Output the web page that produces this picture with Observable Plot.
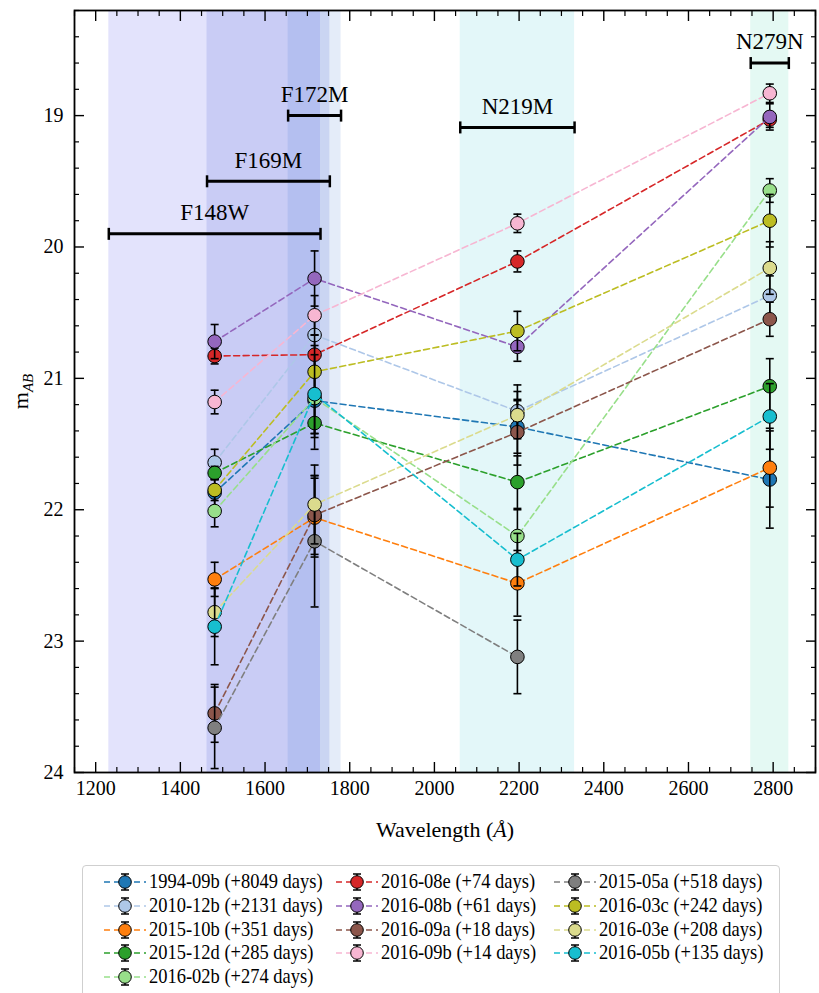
<!DOCTYPE html>
<html>
<head>
<meta charset="utf-8">
<script src="https://cdn.jsdelivr.net/npm/d3@7"></script>
<script src="https://cdn.jsdelivr.net/npm/@observablehq/plot@0.6"></script>
<style>
  body { margin: 0; background: #fff; font-family: "Liberation Serif", "DejaVu Serif", "Noto Serif", "Times New Roman", Times, serif; }
  #chart svg { display: block; }
  #legend {
    position: absolute; left: 82px; top: 865px; width: 698px; height: 140px;
    border: 1px solid #cfcfcf; border-radius: 4px; box-sizing: border-box; background: #fff;
    padding: 4px 0 0 21px;
    display: grid;
    grid-template-rows: repeat(5, 23.8px);
    grid-template-columns: 232px 218px 220px;
  }
  .item { display: flex; align-items: center; gap: 3px; font-size: 21px; line-height: 23.8px; white-space: nowrap; color: #000; }
  .item svg { flex: none; }
  .item span { display: inline-block; transform: scaleX(0.88); transform-origin: 0 50%; }
</style>
</head>
<body>
<div id="chart"></div>
<div id="legend"></div>
<script>
// ---- data ----
const wavelengths = [1481, 1717, 2196, 2792];

const seriesNames = [
  "1994-09b (+8049 days)", "2010-12b (+2131 days)", "2015-10b (+351 days)",
  "2015-12d (+285 days)", "2016-02b (+274 days)", "2016-08e (+74 days)",
  "2016-08b (+61 days)", "2016-09a (+18 days)", "2016-09b (+14 days)",
  "2015-05a (+518 days)", "2016-03c (+242 days)", "2016-03e (+208 days)",
  "2016-05b (+135 days)"
];
const seriesColors = [
  "#1f77b4", "#aec7e8", "#ff7f0e", "#2ca02c", "#98df8a", "#d62728", "#9467bd",
  "#8c564b", "#f7b6d2", "#7f7f7f", "#bcbd22", "#dbdb8d", "#17becf"
];
// magnitudes at [1481, 1717, 2196, 2792]
const mags = [
  [21.87, 21.17, 21.37, 21.77],
  [21.64, 20.67, 21.25, 20.37],
  [22.53, 22.06, 22.56, 21.68],
  [21.72, 21.34, 21.79, 21.06],
  [22.01, 21.15, 22.20, 19.57],
  [20.83, 20.82, 20.11, 19.03],
  [20.72, 20.24, 20.76, 19.01],
  [23.55, 22.04, 21.41, 20.55],
  [21.18, 20.52, 19.82, 18.83],
  [23.66, 22.24, 23.12, null],
  [21.85, 20.95, 20.64, 19.80],
  [22.78, 21.96, 21.28, 20.16],
  [22.89, 21.12, 22.38, 21.29]
];
const errs = [
  [0.10, 0.25, 0.20, 0.37],
  [0.10, 0.15, 0.20, 0.15],
  [0.13, 0.30, 0.25, 0.30],
  [0.05, 0.20, 0.20, 0.21],
  [0.12, 0.30, 0.20, 0.09],
  [0.06, 0.15, 0.08, 0.06],
  [0.13, 0.21, 0.11, 0.10],
  [0.22, 0.30, 0.25, 0.13],
  [0.09, 0.15, 0.07, 0.07],
  [0.31, 0.50, 0.28, null],
  [0.08, 0.20, 0.15, 0.20],
  [0.185, 0.30, 0.18, 0.20],
  [0.29, 0.30, 0.20, 0.25]
];
// legend layout (matplotlib ncol=3): column of each series
const legendColumns = [0, 0, 0, 0, 0, 1, 1, 1, 1, 2, 2, 2, 2];

// UVIT filters: name, central wavelength, bandwidth, bar level (mag)
const filterNames = ["F148W", "F169M", "F172M", "N219M", "N279N"];
const filterCenters = [1481, 1608, 1717, 2196, 2792];
const filterWidths = [500, 290, 125, 270, 90];
const filterLevels = [19.9, 19.5, 19.0, 19.09, 18.6];
const filterColors = ["#1a1ae6", "#122bc2", "#2260cb", "#17becf", "#1fcf9f"];

const xMajor = [1200, 1400, 1600, 1800, 2000, 2200, 2400, 2600, 2800];
const xMinor = d3.range(1150, 2901, 50).filter(v => v % 200 !== 0);
const yMajor = [19, 20, 21, 22, 23, 24];
const yMinor = d3.range(91, 120).filter(v => v % 5 !== 0).map(v => v / 5);

// ---- build ----
const FONT = "'Liberation Serif', 'DejaVu Serif', 'Noto Serif', 'Times New Roman', Times, serif";
const filters = filterNames.map((name, i) => ({
  name, c: filterCenters[i], lo: filterCenters[i] - filterWidths[i] / 2,
  hi: filterCenters[i] + filterWidths[i] / 2, y: filterLevels[i], color: filterColors[i]
}));
const filterEnds = filters.flatMap(f => [{x: f.lo, y: f.y}, {x: f.hi, y: f.y}]);

const hCap = {draw(ctx, size) { const r = Math.sqrt(size / Math.PI); ctx.moveTo(-r, 0); ctx.lineTo(r, 0); }};
const vCap = {draw(ctx, size) { const r = Math.sqrt(size / Math.PI); ctx.moveTo(0, -r); ctx.lineTo(0, r); }};

const seriesMarks = [];
seriesNames.forEach((name, i) => {
  const rows = wavelengths.map((w, j) => ({w, m: mags[i][j], e: errs[i][j]})).filter(d => d.m != null);
  const caps = rows.flatMap(d => [{w: d.w, m: d.m - d.e}, {w: d.w, m: d.m + d.e}]);
  seriesMarks.push(
    Plot.line(rows, {x: "w", y: "m", stroke: seriesColors[i], strokeWidth: 1.6, strokeDasharray: "6,3.5"}),
    Plot.ruleX(rows, {x: "w", y1: d => d.m - d.e, y2: d => d.m + d.e, stroke: "black", strokeWidth: 1.6}),
    Plot.dot(caps, {x: "w", y: "m", symbol: hCap, r: 4, stroke: "black", strokeWidth: 1.6, fill: "none"}),
    Plot.dot(rows, {x: "w", y: "m", r: 6.8, fill: seriesColors[i], stroke: "black", strokeWidth: 1})
  );
});

const blank = () => "";
const plot = Plot.plot({
  width: 819, height: 850,
  marginLeft: 74, marginRight: 4, marginTop: 10, marginBottom: 78,
  style: {fontFamily: FONT, fontSize: "20px", color: "black", background: "white", overflow: "visible"},
  x: {domain: [1150, 2900]},
  y: {domain: [18.2, 24], reverse: true},
  marks: [
    Plot.rect(filters, {x1: "lo", x2: "hi", fill: "color", fillOpacity: 0.12}),
    ...seriesMarks,
    Plot.ruleY(filters, {y: "y", x1: "lo", x2: "hi", stroke: "black", strokeWidth: 3}),
    Plot.dot(filterEnds, {x: "x", y: "y", symbol: vCap, r: 6, stroke: "black", strokeWidth: 2.5, fill: "none"}),
    Plot.text(filters, {x: "c", y: "y", text: "name", dy: -21, fontSize: 23, fill: "black", fontFamily: FONT}),
    // tick labels + axis labels
    Plot.axisX(xMajor, {anchor: "bottom", tickSize: 0, tickPadding: 8, tickFormat: "d", fontSize: 20, fontFamily: FONT,
      label: "Wavelength (Å)", labelAnchor: "center", labelOffset: 64, labelArrow: "none"}),
    Plot.axisY(yMajor, {anchor: "left", tickSize: 0, tickPadding: 11, tickFormat: "d", fontSize: 20, fontFamily: FONT,
      label: "m_AB", labelAnchor: "center", labelOffset: 62, labelArrow: "none"}),
    // inward ticks on all four sides
    Plot.axisX(xMajor, {anchor: "bottom", tickSize: -10, tickFormat: blank, label: null, strokeWidth: 1.4}),
    Plot.axisX(xMinor, {anchor: "bottom", tickSize: -5, tickFormat: blank, label: null, strokeWidth: 1.2}),
    Plot.axisX(xMajor, {anchor: "top", tickSize: -10, tickFormat: blank, label: null, strokeWidth: 1.4}),
    Plot.axisX(xMinor, {anchor: "top", tickSize: -5, tickFormat: blank, label: null, strokeWidth: 1.2}),
    Plot.axisY(yMajor, {anchor: "left", tickSize: -10, tickFormat: blank, label: null, strokeWidth: 1.4}),
    Plot.axisY(yMinor, {anchor: "left", tickSize: -5, tickFormat: blank, label: null, strokeWidth: 1.2}),
    Plot.axisY(yMajor, {anchor: "right", tickSize: -10, tickFormat: blank, label: null, strokeWidth: 1.4}),
    Plot.axisY(yMinor, {anchor: "right", tickSize: -5, tickFormat: blank, label: null, strokeWidth: 1.2}),
    Plot.frame({stroke: "black", strokeWidth: 1.8})
  ]
});

plot.querySelectorAll("text").forEach(t => {
  const s = t.textContent;
  if (s.startsWith("Wavelength")) {
    t.innerHTML = 'Wavelength (<tspan font-style="italic">Å</tspan>)';
    t.setAttribute("font-size", "22");
  } else if (s.startsWith("m_AB")) {
    t.innerHTML = 'm<tspan font-style="italic" font-size="15" dy="0.3em">AB</tspan>';
    t.setAttribute("font-size", "22");
  }
});
document.getElementById("chart").appendChild(plot);

// ---- legend ----
const legend = document.getElementById("legend");
const rowCounter = [0, 0, 0];
seriesNames.forEach((name, i) => {
  const col = legendColumns[i];
  const item = document.createElement("div");
  item.className = "item";
  item.style.gridColumn = String(col + 1);
  item.style.gridRow = String(++rowCounter[col]);
  item.innerHTML =
    `<svg width="42" height="24" viewBox="0 0 42 24">
       <line x1="0" y1="12" x2="42" y2="12" stroke="${seriesColors[i]}" stroke-width="1.6" stroke-dasharray="6,4"/>
       <line x1="21" y1="4" x2="21" y2="20" stroke="black" stroke-width="1.5"/>
       <line x1="17" y1="4" x2="25" y2="4" stroke="black" stroke-width="1.5"/>
       <line x1="17" y1="20" x2="25" y2="20" stroke="black" stroke-width="1.5"/>
       <circle cx="21" cy="12" r="6.3" fill="${seriesColors[i]}" stroke="black" stroke-width="1"/>
     </svg><span>${name}</span>`;
  legend.appendChild(item);
});
</script>
</body>
</html>
